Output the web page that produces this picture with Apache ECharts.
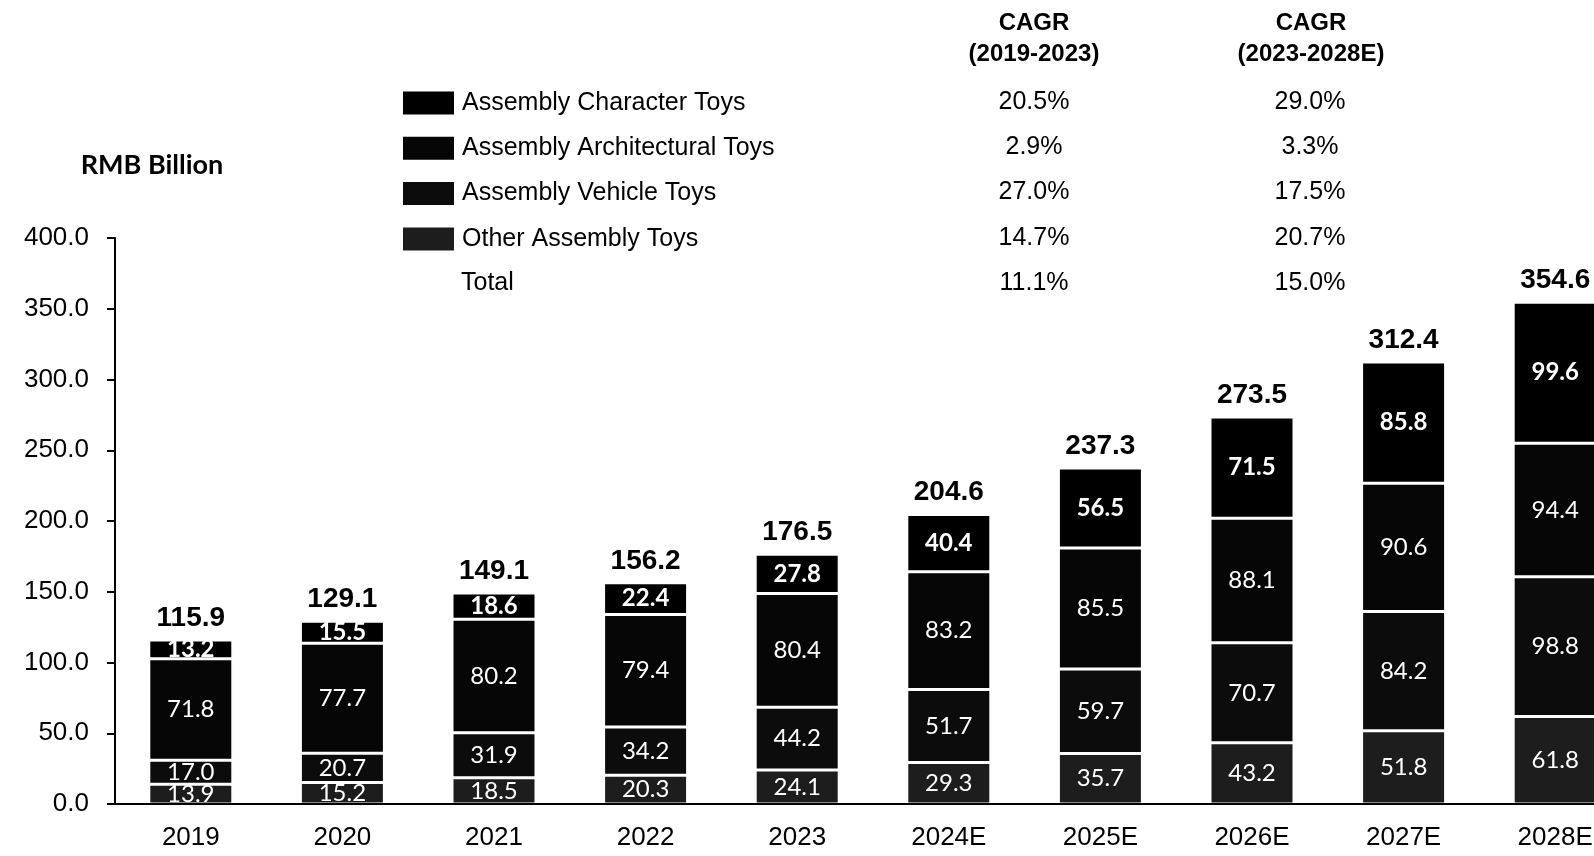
<!DOCTYPE html>
<html>
<head>
<meta charset="utf-8">
<script src="https://cdn.jsdelivr.net/npm/echarts@6/dist/echarts.min.js"></script>
<style>
html,body{margin:0;padding:0;background:#fff;overflow:hidden;}
#chart{width:1594px;height:856px;}
</style>
</head>
<body>
<div id="chart"></div>
<script>
const categories = ['2019','2020','2021','2022','2023','2024E','2025E','2026E','2027E','2028E'];
const otherToys = [13.9, 15.2, 18.5, 20.3, 24.1, 29.3, 35.7, 43.2, 51.8, 61.8];
const vehicleToys = [17.0, 20.7, 31.9, 34.2, 44.2, 51.7, 59.7, 70.7, 84.2, 98.8];
const architecturalToys = [71.8, 77.7, 80.2, 79.4, 80.4, 83.2, 85.5, 88.1, 90.6, 94.4];
const characterToys = [13.2, 15.5, 18.6, 22.4, 27.8, 40.4, 56.5, 71.5, 85.8, 99.6];
const totals = [115.9, 129.1, 149.1, 156.2, 176.5, 204.6, 237.3, 273.5, 312.4, 354.6];

const legendNames = ['Assembly Character Toys','Assembly Architectural Toys','Assembly Vehicle Toys','Other Assembly Toys','Total'];
const cagrHeader1 = ['CAGR','(2019-2023)'];
const cagrHeader2 = ['CAGR','(2023-2028E)'];
const cagr2019to2023 = ['20.5%','2.9%','27.0%','14.7%','11.1%'];
const cagr2023to2028 = ['29.0%','3.3%','17.5%','20.7%','15.0%'];
const unitLabel = 'RMB Billion';

const chart = echarts.init(document.getElementById('chart'), null, {renderer:'canvas'});

const AX = 'Liberation Sans, Arial, sans-serif';
const CAL = 'Lato, Open Sans, sans-serif';
const BAR_W = 84;
const rowY0 = 102, rowStep = 45.3;

const colors = {
  'Assembly Character Toys': '#000000',
  'Assembly Architectural Toys': '#060606',
  'Assembly Vehicle Toys': '#0c0c0c',
  'Other Assembly Toys': '#1d1d1d'
};

function segSeries(name, data, bold) {
  return {
    name, type:'bar', stack:'total', data, barWidth: BAR_W, barGap:'-100%',
    itemStyle:{color: colors[name], borderColor:'#ffffff', borderWidth:1.5},
    label:{show:true, position:'inside', color:'#fff', fontFamily:CAL, fontSize:24,
      fontWeight: bold ? 'bold' : 'normal',
      formatter: p => Number(p.value).toFixed(1)},
    emphasis:{disabled:true}, silent:true
  };
}

const legends = legendNames.slice(0,4).map((n,i)=>({
  data:[n], left:401, top: rowY0 + i*rowStep - 12.5, padding:0,
  itemWidth:53, itemHeight:25, icon:'rect', selectedMode:false,
  textStyle:{fontFamily:AX, fontSize:25, color:'#000', padding:[0,0,0,2]}
}));

const graphics = [];
graphics.push({type:'text', x:152, y:165, style:{text:unitLabel, font:'bold 27px Lato, sans-serif', fill:'#000', textAlign:'center', textVerticalAlign:'middle'}});
graphics.push({type:'text', x:461, y:rowY0 + 4*rowStep, style:{text:legendNames[4], font:'25px ' + AX, fill:'#000', textAlign:'left', textVerticalAlign:'middle'}});
[[cagrHeader1, 1034],[cagrHeader2, 1311]].forEach(([h,x])=>{
  h.forEach((t,j)=>{
    graphics.push({type:'text', x, y: 23 + j*31, style:{text:t, font:'bold 24px ' + AX, fill:'#000', textAlign:'center', textVerticalAlign:'middle'}});
  });
});
[[cagr2019to2023, 1034],[cagr2023to2028, 1310]].forEach(([arr,x])=>{
  arr.forEach((t,i)=>{
    graphics.push({type:'text', x, y: rowY0 + i*rowStep, style:{text:t, font:'25px ' + AX, fill:'#000', textAlign:'center', textVerticalAlign:'middle'}});
  });
});

const option = {
  animation:false,
  backgroundColor:'#ffffff',
  grid:{left:115, width:1516, top:238, bottom:52, containLabel:false, outerBoundsMode:'none'},
  legend: legends,
  graphic: graphics,
  xAxis:{
    type:'category', data:categories, z:10,
    axisLine:{show:true, lineStyle:{color:'#000', width:2}},
    axisTick:{show:false},
    axisLabel:{color:'#000', fontFamily:AX, fontSize:26, margin:21, interval:0}
  },
  yAxis:{
    type:'value', min:0, max:400, interval:50,
    axisLine:{show:true, lineStyle:{color:'#000', width:2}},
    axisTick:{show:true, inside:false, length:8, lineStyle:{color:'#000', width:2}},
    splitLine:{show:false},
    axisLabel:{color:'#000', fontFamily:AX, fontSize:26, margin:26, formatter:v=>v.toFixed(1)}
  },
  series:[
    segSeries('Other Assembly Toys', otherToys, false),
    segSeries('Assembly Vehicle Toys', vehicleToys, false),
    segSeries('Assembly Architectural Toys', architecturalToys, false),
    segSeries('Assembly Character Toys', characterToys, true),
    {
      name:'Total', type:'bar', data:totals, barWidth:BAR_W, barGap:'-100%', z:1,
      itemStyle:{color:'rgba(0,0,0,0)'}, silent:true,
      label:{show:true, position:'top', distance:8, color:'#000', fontFamily:AX, fontWeight:'bold', fontSize:28,
        formatter:p=>Number(p.value).toFixed(1)}
    }
  ]
};
chart.setOption(option);
</script>
</body>
</html>
